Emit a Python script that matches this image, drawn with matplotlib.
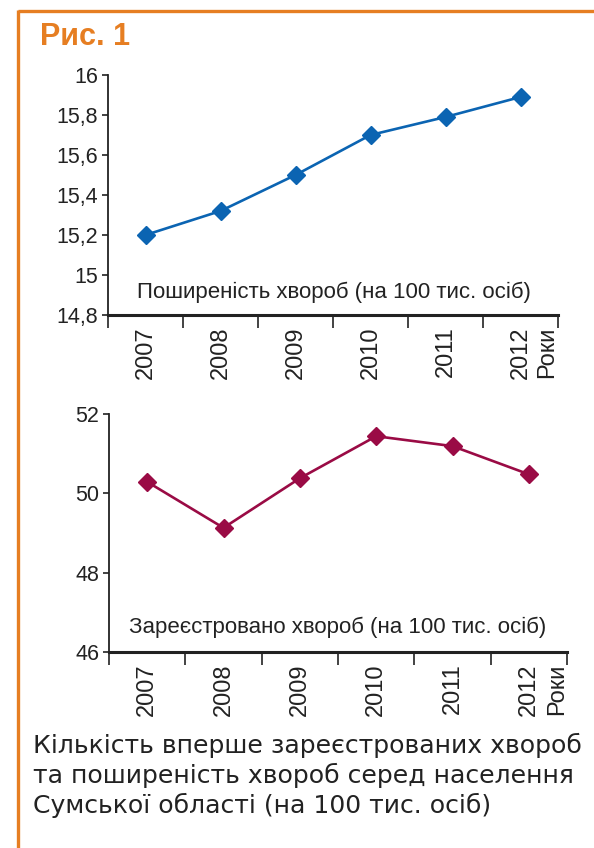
import matplotlib
matplotlib.use("Agg")
import matplotlib.pyplot as plt
from matplotlib.lines import Line2D

plt.rcParams['font.family'] = ['Liberation Sans', 'DejaVu Sans']

years = ['2007', '2008', '2009', '2010', '2011', '2012']
prevalence = [15.2, 15.32, 15.5, 15.7, 15.79, 15.89]
registered = [50.29, 49.13, 50.38, 51.44, 51.19, 50.48]

top_yticks = [14.8, 15.0, 15.2, 15.4, 15.6, 15.8, 16.0]
top_ylabels = ['14,8', '15', '15,2', '15,4', '15,6', '15,8', '16']
bot_yticks = [46, 48, 50, 52]
bot_ylabels = ['46', '48', '50', '52']

top_text = 'Поширеність хвороб (на 100 тис. осіб)'
bot_text = 'Зареєстровано хвороб (на 100 тис. осіб)'
axis_name = 'Роки'
title = 'Рис. 1'
caption_lines = ['Кількість вперше зареєстрованих хвороб',
                 'та поширеність хвороб серед населення',
                 'Сумської області (на 100 тис. осіб)']

orange = '#E67E22'
blue = '#0B64B2'
maroon = '#9A0B45'
ink = '#222222'

W, H = 594, 848
fig = plt.figure(figsize=(W / 100, H / 100), dpi=100)


def px_axes(left, right, top, bottom):
    return fig.add_axes([left / W, 1 - bottom / H, (right - left) / W, (bottom - top) / H])


def style(ax, yticks, ylabels, ylim):
    ax.set_xlim(0, len(years))
    ax.set_ylim(*ylim)
    for s in ['top', 'right']:
        ax.spines[s].set_visible(False)
    ax.spines['left'].set_linewidth(1.3)
    ax.spines['bottom'].set_linewidth(2.2)
    ax.spines['left'].set_color(ink)
    ax.spines['bottom'].set_color(ink)
    ax.set_yticks(yticks)
    ax.set_yticklabels(ylabels, fontsize=15.5, color=ink)
    ax.tick_params(axis='y', direction='out', length=4, width=1.2, pad=3, color=ink)
    ax.set_xticks(range(0, len(years) + 1))
    ax.set_xticklabels([])
    ax.tick_params(axis='x', which='major', direction='out', length=9, width=1.2, color=ink)
    ax.set_xticks([i + 0.5 for i in range(len(years))], minor=True)
    ax.set_xticklabels(years, minor=True, rotation=90, fontsize=17, color=ink)
    ax.tick_params(axis='x', which='minor', length=0, pad=8)
    ax.patch.set_alpha(0)


xs = [i + 0.5 for i in range(len(years))]

# Top chart
ax1 = px_axes(108, 558, 75, 315)
ax1.plot(xs, prevalence, color=blue, lw=1.9, marker='D', ms=9, clip_on=False)
style(ax1, top_yticks, top_ylabels, (14.8, 16.0))
ax1.text(0.064, 0.071, top_text, transform=ax1.transAxes, fontsize=16,
         color=ink, va='baseline', ha='left')
ax1.annotate(axis_name, xy=(5.85, 0), xycoords=('data', 'axes fraction'),
             xytext=(0, -12), textcoords='offset pixels', rotation=90,
             ha='center', va='top', fontsize=17, color=ink)

# Bottom chart
ax2 = px_axes(109, 567, 414, 652)
ax2.plot(xs, registered, color=maroon, lw=1.9, marker='D', ms=9, clip_on=False)
style(ax2, bot_yticks, bot_ylabels, (46, 52))
ax2.text(0.044, 0.079, bot_text, transform=ax2.transAxes, fontsize=16,
         color=ink, va='baseline', ha='left')
ax2.annotate(axis_name, xy=(5.87, 0), xycoords=('data', 'axes fraction'),
             xytext=(0, -12), textcoords='offset pixels', rotation=90,
             ha='center', va='top', fontsize=17, color=ink)

# Orange frame
fig.add_artist(Line2D([17.5 / W, 1.0], [1 - 11 / H, 1 - 11 / H], transform=fig.transFigure,
                      color=orange, lw=2.4, solid_capstyle='butt'))
fig.add_artist(Line2D([17.5 / W, 17.5 / W], [1 - 9.8 / H, 0], transform=fig.transFigure,
                      color=orange, lw=2.4, solid_capstyle='butt'))

fig.text(40 / W, 1 - 45 / H, title, fontsize=22, fontweight='bold', color=orange,
         va='baseline', ha='left')
for i, line in enumerate(caption_lines):
    fig.text(33 / W, 1 - (753 + 30 * i) / H, line, fontsize=18.1, color=ink,
             va='baseline', ha='left', family=['DejaVu Sans'])

fig.savefig('out.png', dpi=100)
